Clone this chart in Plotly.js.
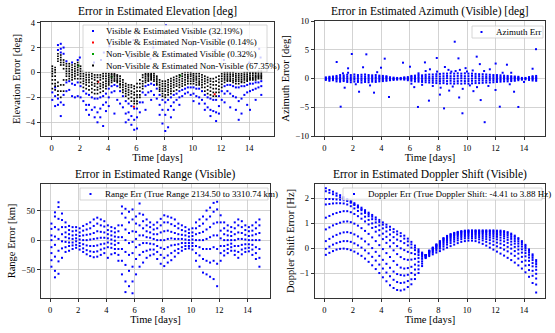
<!DOCTYPE html>
<html>
<head>
<meta charset="utf-8">
<script src="https://cdn.plot.ly/plotly-3.0.1.min.js"></script>
<style>
html, body { margin: 0; padding: 0; background: #fff; }
#plot { width: 555px; height: 333px; }
</style>
</head>
<body>
<div id="plot"></div>
<script>
// pass times (days) shared by the azimuth, range and doppler panels
var passT = [0.1,0.35,0.6,0.85,1.1,1.35,1.6,1.85,2.1,2.35,2.6,2.85,3.1,3.35,3.6,3.85,4.1,4.35,4.6,4.85,
  5.1,5.35,5.6,5.85,6.1,6.35,6.6,6.85,7.1,7.35,7.6,7.85,8.1,8.35,8.6,8.85,9.1,9.35,9.6,9.85,
  10.1,10.35,10.6,10.85,11.1,11.35,11.6,11.85,12.1,12.35,12.6,12.85,13.1,13.35,13.6,13.85,14.1,14.35,14.6,14.85];

// elevation panel time columns
var elevT = [0.05,0.25,0.45,0.65,0.85,1.05,1.25,1.45,1.65,1.85,2.05,2.25,2.45,2.65,2.85,3.05,3.25,3.45,3.65,3.85,
  4.05,4.25,4.45,4.65,4.85,5.05,5.25,5.45,5.65,5.85,6.05,6.25,6.45,6.65,6.85,7.05,7.25,7.45,7.65,7.85,
  8.05,8.25,8.45,8.65,8.85,9.05,9.25,9.45,9.65,9.85,10.05,10.25,10.45,10.65,10.85,11.05,11.25,11.45,11.65,11.85,
  12.05,12.25,12.45,12.65,12.85,13.05,13.25,13.45,13.65,13.85,14.05,14.25,14.45,14.65,14.85];

// non-visible & estimated non-visible (black)
var elevNN = [
  [0.5,0.3,0.1,-0.1,-0.3,-0.6,-0.9,-1.3],[0.4,0.2,0.0,-0.3,-0.6,-0.9,-1.1,-1.4],
  [1.5,1.3,1.1,0.9,-0.8,-1.1,-1.5,-1.8],[1.4,1.2,1.0,0.8,0.6,-1.0,-1.5,-2.0],
  [1.0,0.8,0.6,0.3,-0.6,-1.0,-1.5],[0.7,0.5,0.3,0.1,-0.1,-0.3,-0.6],
  [0.7,0.5,0.3,0.1,-0.1,-0.3,-0.5],[0.6,0.4,0.2,0.0,-0.2,-0.4,-0.6],
  [0.7,0.5,0.3,0.1,-0.1,-0.3,-0.5],[0.8,0.6,0.4,0.2,0.0,-0.2,-0.5],
  [0.5,0.3,0.1,-0.1,-0.3,-0.5,-0.8],[0.1,-0.1,-0.3,-0.5,-0.7,-0.9,-1.2],
  [0.0,-0.2,-0.4,-0.6,-0.8,-1.0,-1.3],[0.0,-0.2,-0.4,-0.6,-0.8,-1.1,-1.4],
  [-0.1,-0.3,-0.5,-0.8,-1.0,-1.3,-1.6],[-0.2,-0.4,-0.6,-0.9,-1.1,-1.4,-1.7],
  [-0.2,-0.4,-0.7,-0.9,-1.2,-1.4,-1.7],[-0.2,-0.4,-0.6,-0.9,-1.1,-1.3,-1.6],
  [-0.1,-0.3,-0.5,-0.8,-1.0,-1.2,-1.5],[-0.1,-0.3,-0.5,-0.7,-0.9,-1.1,-1.3],
  [-0.1,-0.25,-0.4,-0.55,-0.7,-0.85,-1.0],[-0.1,-0.2,-0.35,-0.5,-0.65,-0.8],
  [-0.1,-0.2,-0.3,-0.45,-0.6,-0.7],[-0.2,-0.3,-0.45,-0.6,-0.7,-0.8],
  [-0.3,-0.5,-0.7,-0.9,-1.0,-1.2],[-0.6,-0.8,-1.0,-1.2,-1.4,-1.6],
  [-0.9,-1.1,-1.3,-1.5,-1.7,-1.9],[-1.0,-1.2,-1.4,-1.6,-1.8,-2.1],
  [-1.0,-1.2,-1.5,-1.7,-2.0,-2.3],[-1.1,-1.3,-1.6,-1.8,-2.1,-2.3,-2.5],
  [-0.9,-1.2,-1.5,-1.8,-2.0,-2.3,-2.5],[-0.6,-0.9,-1.2,-1.5,-1.8,-2.0],
  [-0.2,-0.4,-0.7,-0.9,-1.1,-1.3],[-0.1,-0.2,-0.35,-0.5,-0.65,-0.8],
  [-0.1,-0.2,-0.3,-0.45,-0.6,-0.7],[-0.1,-0.2,-0.3,-0.4,-0.5,-0.6],
  [-0.1,-0.25,-0.4,-0.55,-0.7],[-0.3,-0.45,-0.6,-0.75,-0.9,-1.0],
  [-0.6,-0.8,-1.0,-1.2,-1.35,-1.5],[-0.7,-0.9,-1.1,-1.3,-1.5,-1.7,-1.9],
  [-0.7,-0.9,-1.1,-1.3,-1.5,-1.8,-2.0],[-0.6,-0.8,-1.0,-1.2,-1.4,-1.6,-1.8],
  [-0.5,-0.7,-0.9,-1.1,-1.3,-1.5,-1.7],[-0.4,-0.6,-0.8,-1.0,-1.2,-1.5],
  [-0.3,-0.5,-0.7,-0.9,-1.1,-1.4],[-0.2,-0.4,-0.6,-0.8,-1.0,-1.2],
  [-0.1,-0.3,-0.5,-0.7,-0.9,-1.1],[0.0,-0.2,-0.4,-0.6,-0.8,-1.0],
  [0.0,-0.2,-0.35,-0.5,-0.7,-0.9],[0.0,-0.15,-0.3,-0.5,-0.7,-0.9],
  [-0.1,-0.25,-0.4,-0.55,-0.7,-0.9],[-0.1,-0.3,-0.45,-0.6,-0.8,-1.0],
  [-0.1,-0.3,-0.5,-0.7,-0.85,-1.0],[-0.2,-0.4,-0.6,-0.8,-1.0,-1.2],
  [-0.3,-0.5,-0.7,-0.9,-1.2,-1.5],[-0.4,-0.6,-0.8,-1.1,-1.4,-1.7],
  [-0.5,-0.7,-0.95,-1.2,-1.5,-1.8],[-0.5,-0.75,-1.0,-1.3,-1.6,-1.9],
  [-0.4,-0.7,-1.0,-1.3,-1.6,-1.9],[-0.3,-0.55,-0.8,-1.1,-1.35,-1.6],
  [-0.1,-0.3,-0.5,-0.7,-0.95,-1.2],[0.0,-0.15,-0.3,-0.45,-0.6,-0.8],
  [0.0,-0.15,-0.3,-0.45,-0.6,-0.7],[0.0,-0.15,-0.3,-0.45,-0.6,-0.7],
  [0.0,-0.15,-0.3,-0.5,-0.65,-0.8],[-0.1,-0.25,-0.4,-0.55,-0.7,-0.9],
  [-0.1,-0.25,-0.4,-0.55,-0.7,-0.9],[-0.1,-0.25,-0.4,-0.55,-0.7,-0.8],
  [0.0,-0.15,-0.3,-0.45,-0.6,-0.8],[0.0,-0.15,-0.3,-0.45,-0.6,-0.7],
  [0.0,-0.1,-0.25,-0.4,-0.5,-0.6],[0.0,-0.1,-0.25,-0.4,-0.5,-0.6],
  [0.0,-0.1,-0.25,-0.35,-0.45,-0.6],[0.1,-0.05,-0.2,-0.3,-0.4,-0.5],
  [0.1,-0.05,-0.2,-0.3,-0.4,-0.5]
];

// visible & estimated visible (blue)
var elevVV = [
  [-1.6,-2.2],[-1.2,-1.9,-2.7],[2.2,1.8,-2.1,-2.6],[2.3,1.9,1.6,-2.4,-3.5],[2.0,1.5,-1.8,-2.6],
  [0.9,-0.8,-1.5],[-0.7,-1.4],[0.8,-0.9,-1.9],[-1.0,-2.0],[1.0,-0.8,-1.9],
  [-1.1,-2.0],[-1.5,-2.3],[-1.7,-2.6,-3.0],[-1.8,-2.6,-3.4],[-2.0,-3.0],
  [-2.1,-2.8,-3.6],[-2.1,-3.2,-4.0],[-2.0,-2.9,-3.6],[-1.9,-2.6,-4.3],[-1.7,-2.4,-3.1],
  [-1.3,-2.0,-2.7],[-1.1,-1.6],[-1.0,-1.5,-3.3],[-1.1,-2.2],[-1.5,-2.5],
  [-1.9,-2.8],[-2.3,-3.3,-4.0],[-2.5,-3.2,-3.8],[-2.7,-3.5,-4.2],[-2.9,-3.8,-4.6],
  [-2.9,-3.6,-4.5],[-2.4,-3.2],[-1.6,-2.4],[-1.1,-1.8,-3.0],[-1.0,-1.6],
  [-0.9,-1.5,-2.2],[-1.0,-1.8],[-1.3,-2.1],[-1.8,-2.6,-3.4],[-2.2,-3.0,-4.1],
  [-2.4,-3.4,-4.7],[-2.2,-3.0,-4.4],[-2.0,-2.7,-3.6],[-1.8,-2.4,-3.0],[-1.7,-2.2],
  [-1.5,-2.0,-2.6],[-1.4,-1.9],[-1.3,-1.7],[-1.2,-1.6],[-1.2,-1.8],
  [-1.2,-1.7,-2.3],[-1.3,-1.9],[-1.3,-2.0,-2.5],[-1.5,-2.2],[-1.8,-2.5,-3.0],
  [-2.0,-2.8],[-2.1,-3.0,-3.5],[-2.2,-3.1],[-2.2,-3.2,-3.9],[-1.9,-2.7,-3.3],
  [-1.5,-2.2],[-1.1,-1.7,-2.4],[-1.0,-1.5],[-1.0,-1.7,-2.8],[-1.1,-1.9],
  [-1.2,-2.0,-3.0],[-1.2,-2.3,-3.8],[-1.1,-2.1,-3.3],[-1.1,-1.8],[-1.0,-1.6,-2.6],
  [-0.9,-1.5,-3.0],[-0.9,-1.4],[-0.8,-1.3,-2.2],[-0.8,-1.2],[-0.7,-1.1,-1.8]
];
// visible points above zero (mostly behind the legend)
var elevUpT = [2.0,3.0,3.5,3.7,4.1,5.5,5.8,6.0,7.0,7.2,8.0,8.1,8.3,9.6,10.0,11.6,11.8,12.2,13.4,14.0,14.7,14.8];
var elevUpV = [1.2,0.8,1.0,1.6,2.1,1.2,2.6,3.3,1.1,2.0,2.5,3.8,1.5,1.3,2.2,1.8,2.7,1.0,1.4,0.8,1.9,1.2];
var elevRedT = [3.3,5.83,11.55];
var elevRedV = [-0.75,-2.75,-1.75];
var elevGreenT = [1.9,4.25,9.1];
var elevGreenV = [0.55,-0.35,-0.25];

// azimuth error columns (deg)
var azCols = [
  [-0.25,-0.1,0.05,0.2],[-0.4,-0.15,0,0.15,0.3],[-0.3,-0.1,0.1,0.35],[-0.5,-0.2,0,0.2,0.45],
  [-0.55,-0.25,0,0.25,0.6],[-0.45,-0.2,0.05,0.3,0.55],[-0.6,-0.3,0,0.3,0.65],[-0.65,-0.3,-0.05,0.25,0.6],
  [-0.55,-0.2,0.05,0.35,0.7],[-0.6,-0.3,0,0.3,0.6],[-0.7,-0.35,-0.05,0.3,0.65],[-0.6,-0.25,0.05,0.35,0.7],
  [-0.65,-0.3,0,0.3,0.6],[-0.55,-0.25,0.05,0.3,0.55],[-0.6,-0.3,0,0.25,0.6],[-0.5,-0.2,0.05,0.3,0.5],
  [-0.45,-0.2,0,0.2,0.45],[-0.4,-0.15,0.05,0.25,0.4],[-0.3,-0.1,0.05,0.2],[-0.25,-0.1,0,0.15],
  [-0.2,-0.05,0.1],[-0.15,0,0.1],[-0.2,-0.05,0.1,0.2],[-0.3,-0.1,0.05,0.25],
  [-0.4,-0.15,0.05,0.3,0.45],[-0.5,-0.2,0,0.25,0.5],[-0.55,-0.25,0.05,0.3,0.6],[-0.6,-0.3,0,0.3,0.55],
  [-0.65,-0.3,0.05,0.35,0.65],[-0.7,-0.35,0,0.3,0.7],[-0.75,-0.4,-0.05,0.3,0.7],[-0.8,-0.4,0,0.4,0.75],
  [-0.85,-0.45,-0.05,0.35,0.8],[-0.8,-0.4,0,0.4,0.85],[-0.9,-0.45,0.05,0.45,0.85],[-0.85,-0.4,0,0.4,0.9],
  [-0.9,-0.5,-0.05,0.4,0.85],[-0.85,-0.45,0,0.45,0.9],[-0.9,-0.4,0.05,0.45,0.85],[-0.85,-0.45,0,0.4,0.9],
  [-0.9,-0.45,-0.05,0.4,0.85],[-0.85,-0.4,0,0.45,0.85],[-0.8,-0.4,0.05,0.4,0.8],[-0.8,-0.35,0,0.4,0.75],
  [-0.75,-0.35,0,0.35,0.75],[-0.7,-0.35,0.05,0.35,0.7],[-0.7,-0.3,0,0.3,0.65],[-0.65,-0.3,0,0.3,0.6],
  [-0.6,-0.25,0.05,0.3,0.6],[-0.55,-0.25,0,0.25,0.55],[-0.5,-0.2,0.05,0.25,0.5],[-0.5,-0.2,0,0.2,0.45],
  [-0.45,-0.2,0,0.2,0.4],[-0.4,-0.15,0.05,0.2,0.35],[-0.3,-0.1,0,0.15,0.3],[-0.2,-0.05,0.1],
  [-0.15,0,0.1],[-0.25,-0.05,0.1,0.25],[-0.35,-0.1,0.05,0.25,0.4],[-0.4,-0.15,0.05,0.2,0.45]
];
var azOutT = [0.86,1.14,1.3,1.42,1.66,1.66,1.92,2.2,2.43,2.71,2.94,3.2,3.48,3.7,3.97,4.23,4.53,5.51,6.0,6.1,
  6.3,6.56,6.6,6.85,7.05,7.1,7.33,7.4,7.6,7.88,7.9,8.1,8.15,8.39,8.45,8.7,8.75,8.9,9.0,9.14,
  9.2,9.4,9.45,9.5,9.68,9.7,9.9,10.0,10.2,10.4,10.45,10.68,10.7,10.9,10.96,11.2,11.24,11.5,11.6,12.01,
  12.0,12.3,12.5,12.8,13.0,13.1,13.3,13.6,14.0,14.6,14.84];
var azOutV = [2.87,-4.9,0.9,-1.6,1.0,1.77,4.26,-1.0,-2.3,1.95,4.2,-1.2,-2.46,1.1,1.88,3.45,-3.2,2.75,2.05,-0.9,
  -1.5,-4.95,0.9,-1.1,2.8,1.3,-3.85,1.6,-1.3,3.57,1.2,-2.8,-1.6,-5.2,2.0,1.5,-2.1,1.2,-1.4,6.4,
  1.3,3.5,-3.3,1.5,-6.05,-1.8,1.8,1.2,-1.2,1.4,-2.2,3.8,-1.5,2.5,-3.75,1.3,-7.6,-1.3,1.6,2.6,
  -2.0,-4.9,1.0,2.4,-1.0,1.0,-2.3,-4.95,-0.6,1.7,5.1];

// range error columns (km)
var rngCols = [
  [28,19,8,0,-12,-22,-34,-45],[47,40,22,6,-8,-28,-52,-63],[64,56,36,18,2,-18,-36,-57],[45,34,22,10,-2,-14,-30],
  [30,22,13,5,-3,-12,-20],[24,17,10,3,-4,-10,-18],[22,15,8,2,-4,-9,-15],[22,16,9,3,-2,-8,-13],
  [20,13,7,1,-5,-10,-16],[24,16,8,0,-7,-14,-20],[27,18,9,0,-9,-17,-24],[30,20,10,1,-10,-19,-27],
  [35,24,12,2,-10,-20,-29],[38,28,15,3,-9,-19,-28],[35,25,14,4,-7,-16,-25],[32,23,13,4,-6,-14,-22],
  [25,17,10,3,-4,-12,-30],[22,15,8,1,-6,-13,-24],[20,13,6,-1,-8,-15,-22],[25,15,5,-5,-15,-25,-35],
  [57,45,25,5,-15,-35,-58],[53,38,18,0,-20,-42,-70,-88],[48,30,12,-5,-25,-52,-78],[52,35,15,-3,-22,-45,-70,-90],
  [40,28,14,2,-12,-32,-58],[62,45,25,8,-8,-25,-45],[43,32,20,8,-5,-20,-38],[35,25,15,5,-5,-18,-30],
  [30,22,13,4,-6,-16,-26],[26,18,10,2,-7,-16,-24],[30,20,10,0,-10,-20,-32],[36,25,13,0,-13,-25,-40],
  [42,30,15,0,-15,-30,-44],[40,30,16,2,-12,-26,-38],[38,27,14,3,-9,-22,-34],[35,24,12,2,-8,-18,-28],
  [28,20,10,2,-7,-15,-22],[25,17,9,2,-5,-12,-18],[22,15,8,1,-5,-10,-15],[18,12,6,0,-5,-10,-14],
  [20,13,7,1,-5,-10,-16],[30,20,10,0,-10,-22,-35],[35,24,12,0,-12,-26,-45],[40,28,14,0,-15,-32,-55],
  [50,35,18,2,-15,-35,-58],[55,40,22,5,-15,-38,-62],[63,48,28,8,-12,-35,-66],[65,52,30,8,-15,-40,-78],
  [42,30,16,3,-10,-22,-35],[30,20,10,0,-10,-18,-26],[25,16,8,0,-8,-15,-22],[22,14,7,0,-6,-12,-18],
  [30,20,10,0,-10,-18,-25],[35,25,13,2,-10,-20,-30],[32,22,12,2,-8,-16,-24],[25,17,9,1,-7,-14,-20],
  [22,15,7,0,-7,-13,-19],[25,16,8,0,-8,-16,-25],[30,20,10,0,-12,-22,-32],[35,25,12,0,-15,-30,-45]
];

// doppler shift error columns (Hz)
var dopCols = [
  [2.40,2.28,1.97,1.75,1.22,0.75,0.28,-0.03,-0.27],[2.33,2.22,1.97,1.77,1.29,0.83,0.37,0.06,-0.19],
  [2.26,2.16,1.96,1.79,1.36,0.91,0.46,0.14,-0.12],[2.19,2.10,1.95,1.80,1.41,0.97,0.53,0.20,-0.06],
  [2.12,2.04,1.94,1.80,1.45,1.02,0.59,0.25,-0.03],[2.04,1.98,1.92,1.79,1.48,1.06,0.63,0.28,-0.02],
  [1.97,1.92,1.89,1.75,1.48,1.07,0.64,0.28,-0.04],[1.89,1.84,1.82,1.68,1.44,1.04,0.61,0.25,-0.08],
  [1.80,1.75,1.73,1.59,1.37,0.98,0.55,0.19,-0.14],[1.71,1.65,1.63,1.49,1.28,0.90,0.47,0.11,-0.22],
  [1.62,1.56,1.52,1.38,1.18,0.80,0.38,0.02,-0.31],[1.52,1.46,1.41,1.26,1.07,0.69,0.27,-0.09,-0.42],
  [1.42,1.36,1.28,1.13,0.95,0.57,0.15,-0.21,-0.55],[1.33,1.26,1.16,0.99,0.81,0.43,0.00,-0.35,-0.69],
  [1.23,1.15,1.03,0.85,0.66,0.28,-0.15,-0.50,-0.84],[1.13,1.05,0.91,0.72,0.51,0.12,-0.31,-0.66,-1.00],
  [1.03,0.94,0.79,0.58,0.36,-0.04,-0.47,-0.82,-1.17],[0.94,0.84,0.67,0.45,0.21,-0.20,-0.63,-0.98,-1.33],
  [0.86,0.74,0.55,0.32,0.06,-0.36,-0.79,-1.13,-1.49],[0.76,0.64,0.44,0.20,-0.09,-0.52,-0.94,-1.27,-1.60],
  [0.67,0.55,0.34,0.08,-0.24,-0.67,-1.04,-1.36,-1.68],[0.60,0.48,0.28,-0.01,-0.36,-0.78,-1.08,-1.40,-1.70],
  [0.50,0.38,0.20,-0.08,-0.44,-0.82,-1.10,-1.38,-1.66],[0.38,0.27,0.11,-0.15,-0.47,-0.80,-1.07,-1.32,-1.56],
  [0.25,0.15,0.02,-0.20,-0.46,-0.75,-1.00,-1.25,-1.45],[0.10,0.02,-0.08,-0.24,-0.43,-0.66,-0.86,-1.07,-1.24],
  [-0.05,-0.12,-0.18,-0.28,-0.40,-0.55,-0.70,-0.85,-1.00],[-0.18,-0.22,-0.24,-0.29,-0.35,-0.43,-0.53,-0.62,-0.72],
  [-0.28,-0.28,-0.28,-0.28,-0.30,-0.32,-0.35,-0.38,-0.40],[-0.10,-0.11,-0.13,-0.14,-0.17,-0.19,-0.23,-0.27,-0.32],
  [0.02,0.01,-0.01,-0.03,-0.06,-0.09,-0.13,-0.18,-0.25],[0.15,0.13,0.11,0.08,0.05,0.01,-0.04,-0.10,-0.18],
  [0.28,0.26,0.23,0.20,0.16,0.11,0.05,-0.02,-0.12],[0.40,0.38,0.35,0.31,0.27,0.21,0.14,0.06,-0.05],
  [0.49,0.47,0.43,0.40,0.35,0.29,0.22,0.14,0.02],[0.56,0.54,0.50,0.46,0.42,0.36,0.29,0.20,0.08],
  [0.61,0.59,0.55,0.52,0.47,0.41,0.34,0.26,0.14],[0.65,0.63,0.60,0.56,0.52,0.46,0.39,0.31,0.20],
  [0.68,0.66,0.63,0.59,0.55,0.50,0.44,0.36,0.25],[0.70,0.68,0.65,0.62,0.57,0.52,0.46,0.39,0.28],
  [0.71,0.69,0.66,0.63,0.59,0.54,0.48,0.40,0.30],[0.71,0.69,0.66,0.63,0.59,0.54,0.48,0.40,0.30],
  [0.71,0.69,0.66,0.62,0.58,0.53,0.46,0.39,0.28],[0.71,0.69,0.65,0.61,0.57,0.51,0.44,0.35,0.23],
  [0.71,0.68,0.65,0.60,0.55,0.48,0.40,0.31,0.17],[0.71,0.68,0.64,0.59,0.53,0.45,0.36,0.25,0.10],
  [0.71,0.68,0.63,0.57,0.50,0.42,0.32,0.19,0.02],[0.71,0.67,0.62,0.56,0.48,0.39,0.27,0.13,-0.06],
  [0.70,0.66,0.60,0.53,0.45,0.35,0.22,0.07,-0.14],[0.70,0.65,0.59,0.52,0.42,0.31,0.18,0.01,-0.22],
  [0.68,0.63,0.56,0.48,0.39,0.27,0.12,-0.06,-0.30],[0.64,0.59,0.52,0.43,0.33,0.21,0.05,-0.13,-0.39],
  [0.58,0.53,0.45,0.37,0.26,0.14,-0.02,-0.22,-0.48],[0.50,0.45,0.37,0.28,0.18,0.05,-0.12,-0.31,-0.58],
  [0.40,0.35,0.27,0.18,0.07,-0.06,-0.22,-0.42,-0.69],[0.28,0.22,0.15,0.06,-0.05,-0.18,-0.35,-0.55,-0.82],
  [0.13,0.07,0.00,-0.09,-0.20,-0.33,-0.50,-0.70,-0.97],[-0.05,-0.11,-0.18,-0.27,-0.38,-0.51,-0.68,-0.88,-1.15],
  [-0.25,-0.31,-0.39,-0.48,-0.60,-0.73,-0.91,-1.11,-1.40],[-0.48,-0.55,-0.64,-0.74,-0.87,-1.03,-1.22,-1.46,-1.78]
];

function flat(ts, cols) {
  var x = [], y = [];
  ts.forEach(function (t, i) {
    cols[i].forEach(function (v) { x.push(t); y.push(v); });
  });
  return {x: x, y: y};
}

var BLUE = '#0000ff';
var W = 555, H = 333;
function fx(p) { return p / W; }
function fy(p) { return 1 - p / H; }

var vv = flat(elevT, elevVV);
var nn = flat(elevT, elevNN);
var az = flat(passT, azCols);
var rg = flat(passT, rngCols);
var dp = flat(passT, dopCols);

function pts(x, y, color, size, xa, ya) {
  return {x: x, y: y, type: 'scatter', mode: 'markers', xaxis: xa, yaxis: ya, showlegend: false,
    hoverinfo: 'skip', marker: {color: color, size: size, symbol: 'square', line: {width: 0}}};
}

var data = [
  pts(vv.x, vv.y, BLUE, 2, 'x', 'y'),
  pts(elevUpT, elevUpV, BLUE, 2, 'x', 'y'),
  pts(elevRedT, elevRedV, '#ff0000', 2, 'x', 'y'),
  pts(elevGreenT, elevGreenV, '#00a000', 2, 'x', 'y'),
  pts(nn.x, nn.y, '#000000', 1.7, 'x', 'y'),
  pts(az.x, az.y, BLUE, 2, 'x2', 'y2'),
  pts(azOutT, azOutV, BLUE, 2, 'x2', 'y2'),
  pts(rg.x, rg.y, BLUE, 2, 'x3', 'y3'),
  pts(dp.x, dp.y, BLUE, 2, 'x4', 'y4')
];

function xax(l, r, range, anchor) {
  return {domain: [fx(l), fx(r)], range: range, anchor: anchor, tickvals: [0,2,4,6,8,10,12,14],
    ticks: 'outside', ticklen: 3.5, tickwidth: 0.8, tickcolor: '#000', showline: true, mirror: true,
    linecolor: '#000', linewidth: 0.8, showgrid: true, gridcolor: '#c8c8c8', gridwidth: 0.8,
    zeroline: false, tickfont: {size: 8.5}, title: {text: 'Time [days]', font: {size: 10.5}, standoff: 1}};
}
function yax(t, b, range, tickvals, title, anchor) {
  return {domain: [fy(b), fy(t)], range: range, anchor: anchor, tickvals: tickvals,
    ticks: 'outside', ticklen: 3.5, tickwidth: 0.8, tickcolor: '#000', showline: true, mirror: true,
    linecolor: '#000', linewidth: 0.8, showgrid: true, gridcolor: '#c8c8c8', gridwidth: 0.8,
    zeroline: false, tickfont: {size: 8.5}, title: {text: title, font: {size: 10.5}, standoff: 3}};
}

var titles = [
  ['Error in Estimated Elevation [deg]', 157, 12],
  ['Error in Estimated Azimuth (Visible) [deg]', 430, 12],
  ['Error in Estimated Range (Visible)', 155, 174],
  ['Error in Estimated Doppler Shift (Visible)', 430, 174]
];

var legends = [
  {box: [83, 25, 267, 72], mx: 93, tx: 105, items: [
    [BLUE, 'Visible & Estimated Visible (32.19%)', 31],
    ['#ff0000', 'Visible & Estimated Non-Visible (0.14%)', 42.5],
    ['#00a000', 'Non-Visible & Estimated Visible (0.32%)', 54],
    ['#000000', 'Non-Visible & Estimated Non-Visible (67.35%)', 65.5]]},
  {box: [472, 26, 543, 38], mx: 481.5, tx: 495, items: [[BLUE, 'Azimuth Err', 32]]},
  {box: [80, 188, 268, 200], mx: 90.5, tx: 104, items: [[BLUE, 'Range Err (True Range 2134.50 to 3310.74 km)', 194]]},
  {box: [343, 188, 542, 200], mx: 354, tx: 367, items: [[BLUE, 'Doppler Err (True Doppler Shift: -4.41 to 3.88 Hz)', 194]]}
];

var shapes = [], annotations = [];
titles.forEach(function (t) {
  annotations.push({xref: 'paper', yref: 'paper', x: fx(t[1]), y: fy(t[2]), xanchor: 'center', yanchor: 'middle',
    text: t[0], showarrow: false, font: {size: 11.5}});
});
legends.forEach(function (lg) {
  shapes.push({type: 'rect', xref: 'paper', yref: 'paper', x0: fx(lg.box[0]), x1: fx(lg.box[2]),
    y0: fy(lg.box[3]), y1: fy(lg.box[1]), fillcolor: 'rgba(255,255,255,0.8)', line: {color: '#cccccc', width: 0.8}});
  lg.items.forEach(function (it) {
    shapes.push({type: 'rect', xref: 'paper', yref: 'paper', xsizemode: 'pixel', ysizemode: 'pixel',
      xanchor: fx(lg.mx), yanchor: fy(it[2]), x0: -1, x1: 1, y0: -1, y1: 1,
      fillcolor: it[0], line: {width: 0}});
    annotations.push({xref: 'paper', yref: 'paper', x: fx(lg.tx), y: fy(it[2]), xanchor: 'left', yanchor: 'middle',
      text: it[1], showarrow: false, font: {size: 9}, borderpad: 0});
  });
});

var layout = {
  width: W, height: H,
  margin: {l: 0, r: 0, t: 0, b: 0},
  paper_bgcolor: '#fff', plot_bgcolor: '#fff',
  font: {family: 'Liberation Serif, serif', color: '#000', size: 8.5},
  showlegend: false,
  xaxis: xax(41, 274, [-0.75, 15.75], 'y'),
  yaxis: yax(22, 136, [-5.1, 4.05], [-4, -2, 0, 2, 4], 'Elevation Error [deg]', 'x'),
  xaxis2: xax(315, 545, [-0.66, 15.47], 'y2'),
  yaxis2: yax(21, 136, [-10, 10], [-10, -5, 0, 5, 10], 'Azimuth Error [deg]', 'x2'),
  xaxis3: xax(41, 270, [-0.64, 15.6], 'y3'),
  yaxis3: yax(184, 298, [-98, 95], [-50, 0, 50], 'Range Error [km]', 'x3'),
  xaxis4: xax(315, 545, [-0.66, 15.47], 'y4'),
  yaxis4: yax(184, 298, [-2.0, 2.57], [-1, 0, 1, 2], 'Doppler Shift Error [Hz]', 'x4'),
  shapes: shapes,
  annotations: annotations
};

Plotly.newPlot('plot', data, layout, {staticPlot: true});
</script>
</body>
</html>
